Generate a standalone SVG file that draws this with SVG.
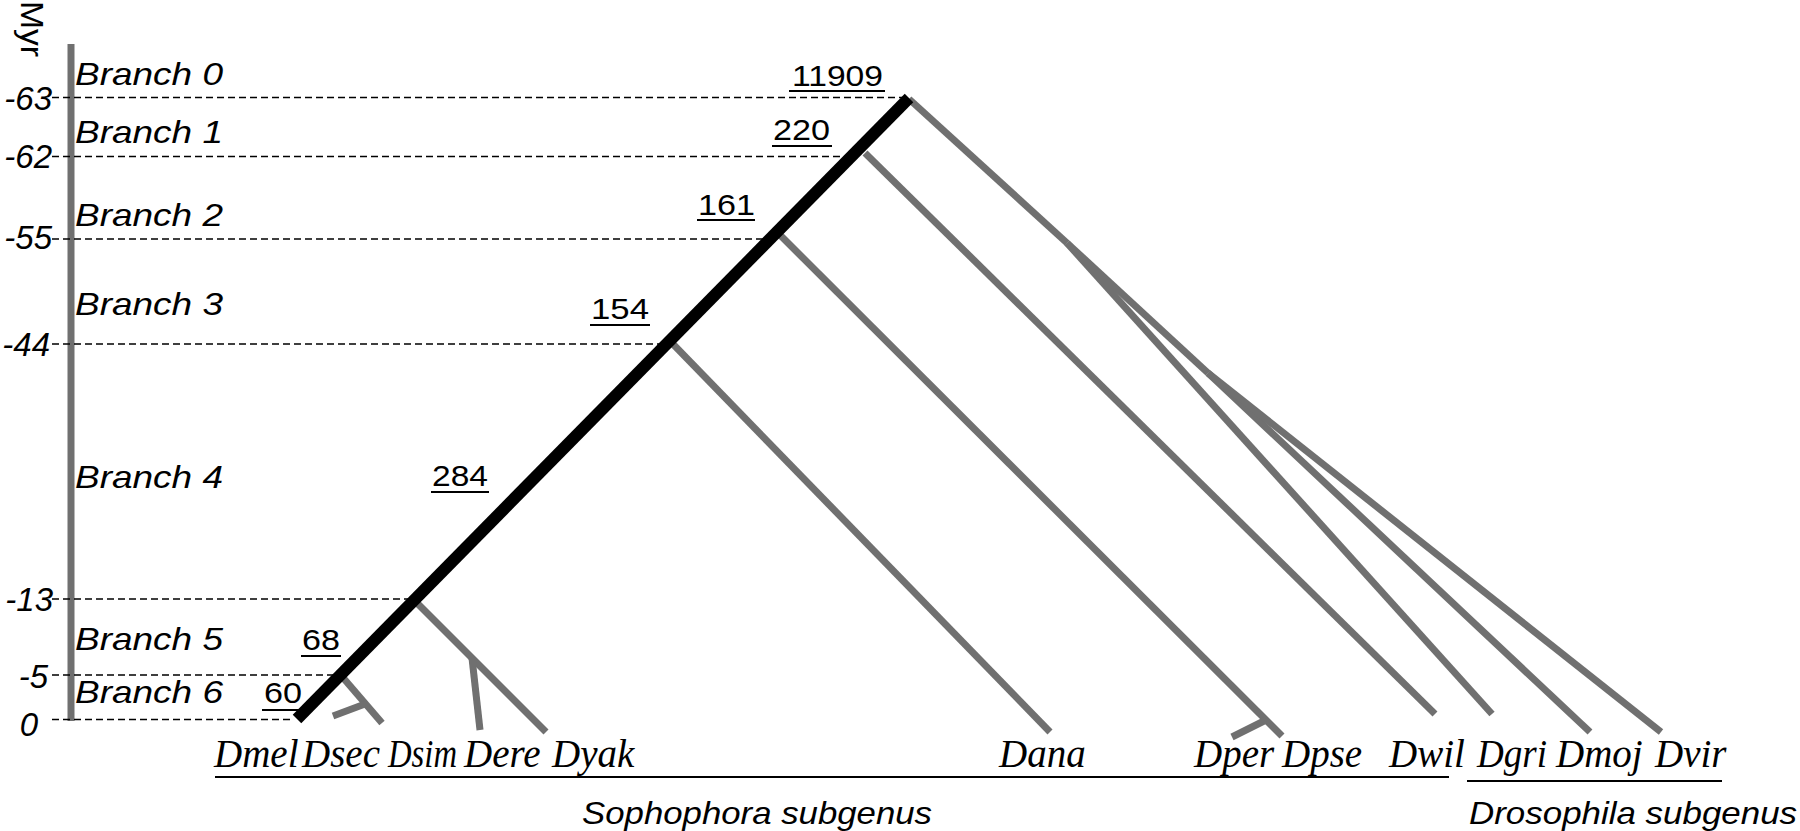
<svg xmlns="http://www.w3.org/2000/svg" width="1800" height="831" viewBox="0 0 1800 831">
<style>
.sans{font-family:"Liberation Sans",Arial,sans-serif;fill:#000}
.it{font-style:italic}
.br{font-size:32px}
.tk{font-size:33px}
.num{font-size:30px}
.sp{font-family:"Liberation Serif","Times New Roman",serif;font-style:italic;font-size:39px;fill:#000}
.dash{stroke:#000;stroke-width:1.5;stroke-dasharray:7 4;fill:none}
.g{stroke:#707070;stroke-width:7;fill:none}
.k{stroke:#000;stroke-width:12;fill:none}
.ul{stroke:#000;stroke-width:1.8}
</style>
<rect width="1800" height="831" fill="#fff"/>
<g id="axis">
<line x1="71" y1="44" x2="71" y2="721" stroke="#707070" stroke-width="7"/>
<text class="sans" font-size="31" transform="translate(21,1) rotate(90)" textLength="56" lengthAdjust="spacingAndGlyphs">Myr</text>
<text class="sans it tk" x="52" y="110" text-anchor="end">-63</text>
<text class="sans it tk" x="52" y="168" text-anchor="end">-62</text>
<text class="sans it tk" x="52" y="249" text-anchor="end">-55</text>
<text class="sans it tk" x="50" y="356" text-anchor="end">-44</text>
<text class="sans it tk" x="53" y="611" text-anchor="end">-13</text>
<text class="sans it tk" x="48" y="688" text-anchor="end">-5</text>
<text class="sans it tk" x="38" y="736" text-anchor="end">0</text>
</g>
<g id="branch-labels">
<text class="sans it br" x="75" y="85" textLength="148" lengthAdjust="spacingAndGlyphs">Branch 0</text>
<text class="sans it br" x="75" y="143" textLength="148" lengthAdjust="spacingAndGlyphs">Branch 1</text>
<text class="sans it br" x="75" y="226" textLength="148" lengthAdjust="spacingAndGlyphs">Branch 2</text>
<text class="sans it br" x="75" y="315" textLength="148" lengthAdjust="spacingAndGlyphs">Branch 3</text>
<text class="sans it br" x="75" y="488" textLength="148" lengthAdjust="spacingAndGlyphs">Branch 4</text>
<text class="sans it br" x="75" y="650" textLength="148" lengthAdjust="spacingAndGlyphs">Branch 5</text>
<text class="sans it br" x="75" y="703" textLength="148" lengthAdjust="spacingAndGlyphs">Branch 6</text>
</g>
<g id="connectors">
<line class="dash" x1="52" y1="97.5" x2="905" y2="97.5"/>
<line class="dash" x1="52" y1="156.5" x2="852" y2="156.5"/>
<line class="dash" x1="52" y1="239" x2="770" y2="239"/>
<line class="dash" x1="52" y1="344" x2="664" y2="344"/>
<line class="dash" x1="52" y1="599" x2="410" y2="599"/>
<line class="dash" x1="52" y1="675" x2="334" y2="675"/>
<line class="dash" x1="52" y1="719.5" x2="292" y2="719.5"/>
<line class="g" x1="909" y1="99" x2="1067" y2="243"/>
<line class="g" x1="1067" y1="243" x2="1492" y2="714"/>
<line class="g" x1="1067" y1="243" x2="1208" y2="373"/>
<line class="g" x1="1208" y1="373" x2="1590" y2="732"/>
<line class="g" x1="1208" y1="373" x2="1661" y2="732"/>
<line class="g" x1="865" y1="153" x2="1435" y2="714"/>
<line class="g" x1="779" y1="234" x2="1282" y2="736"/>
<line class="g" x1="1232" y1="737" x2="1266" y2="720"/>
<line class="g" x1="670" y1="341" x2="1050" y2="732"/>
<line class="g" x1="413" y1="599" x2="546" y2="732"/>
<line class="g" x1="472" y1="658" x2="480" y2="730"/>
<line class="g" x1="339" y1="673" x2="382" y2="723"/>
<line class="g" x1="333" y1="716" x2="365" y2="704"/>
<line class="k" x1="297" y1="719" x2="909" y2="98"/>
</g>
<g id="counts">
<text class="sans num" x="792" y="86" textLength="91" lengthAdjust="spacingAndGlyphs">11909</text>
<line class="ul" x1="789" y1="91" x2="885" y2="91"/>
<text class="sans num" x="773" y="140" textLength="57" lengthAdjust="spacingAndGlyphs">220</text>
<line class="ul" x1="772" y1="146" x2="832" y2="146"/>
<text class="sans num" x="698" y="215" textLength="57" lengthAdjust="spacingAndGlyphs">161</text>
<line class="ul" x1="697" y1="220" x2="755" y2="220"/>
<text class="sans num" x="591" y="319" textLength="58" lengthAdjust="spacingAndGlyphs">154</text>
<line class="ul" x1="590" y1="325" x2="650" y2="325"/>
<text class="sans num" x="432" y="486" textLength="56" lengthAdjust="spacingAndGlyphs">284</text>
<line class="ul" x1="431" y1="492" x2="489" y2="492"/>
<text class="sans num" x="302" y="650" textLength="38" lengthAdjust="spacingAndGlyphs">68</text>
<line class="ul" x1="301" y1="656" x2="341" y2="656"/>
<text class="sans num" x="264" y="703" textLength="38" lengthAdjust="spacingAndGlyphs">60</text>
<line class="ul" x1="262" y1="710" x2="302" y2="710"/>
</g>
<g id="species">
<text class="sp" x="214" y="767">Dmel</text>
<text class="sp" x="302" y="767">Dsec</text>
<text class="sp" x="388" y="767" textLength="69" lengthAdjust="spacingAndGlyphs">Dsim</text>
<text class="sp" x="464" y="767">Dere</text>
<text class="sp" x="552" y="767">Dyak</text>
<text class="sp" x="999" y="767">Dana</text>
<text class="sp" x="1194" y="767">Dper</text>
<text class="sp" x="1282" y="767">Dpse</text>
<text class="sp" x="1389" y="767">Dwil</text>
<text class="sp" x="1477" y="767" textLength="70" lengthAdjust="spacingAndGlyphs">Dgri</text>
<text class="sp" x="1556" y="767">Dmoj</text>
<text class="sp" x="1655" y="767">Dvir</text>
</g>
<g id="subgenera">
<line x1="215" y1="777" x2="1449" y2="777" stroke="#000" stroke-width="1.8"/>
<text class="sans it" font-size="32" x="582" y="824" textLength="350" lengthAdjust="spacingAndGlyphs">Sophophora subgenus</text>
<line x1="1467" y1="781" x2="1722" y2="781" stroke="#000" stroke-width="1.8"/>
<text class="sans it" font-size="32" x="1469" y="824" textLength="328" lengthAdjust="spacingAndGlyphs">Drosophila subgenus</text>
</g>
</svg>
